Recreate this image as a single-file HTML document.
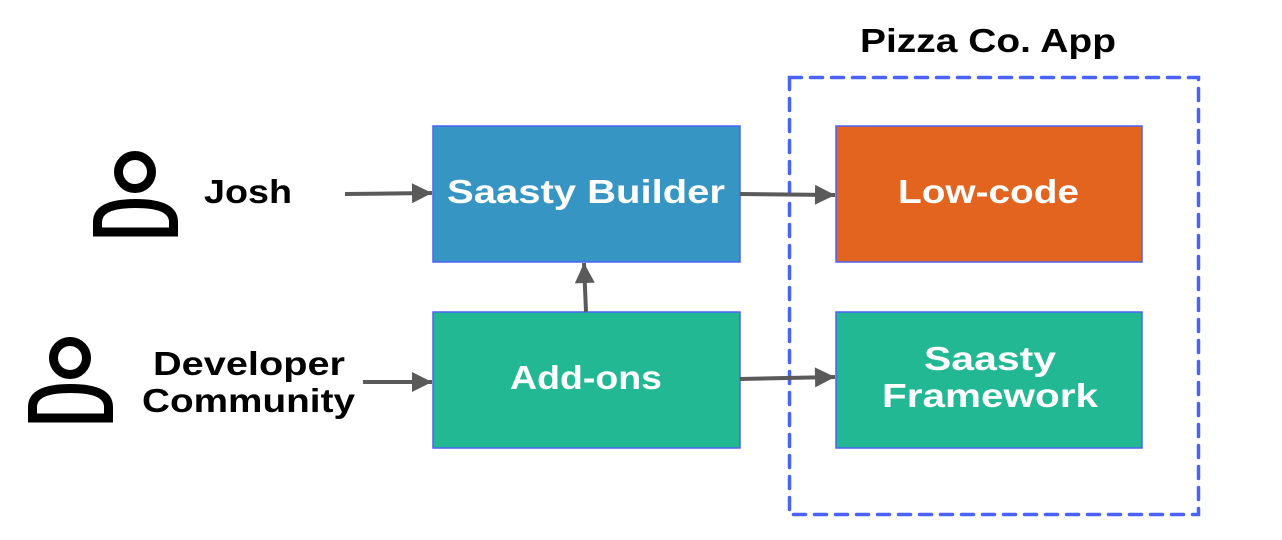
<!DOCTYPE html>
<html><head><meta charset="utf-8"><style>html,body{margin:0;padding:0;background:#fff}svg{display:block}</style></head>
<body>
<svg width="1282" height="540" viewBox="0 0 1282 540" xmlns="http://www.w3.org/2000/svg" font-family="Liberation Sans, sans-serif">
<defs>
<marker id="b" viewBox="0 0 10 10" refX="10" refY="5" markerWidth="26" markerHeight="20" orient="auto" markerUnits="userSpaceOnUse"><path d="M0,0 L10,5 L0,10 Z" fill="#5a5a5a"/></marker>
</defs>
<rect x="789.5" y="77.5" width="409" height="437" fill="none" stroke="#4a63f5" stroke-width="3.5" stroke-dasharray="12 9" stroke-linecap="round"/>
<text x="988" y="52" text-anchor="middle" font-size="33" font-weight="bold" fill="#000" textLength="256" lengthAdjust="spacingAndGlyphs">Pizza Co. App</text>

<rect x="433" y="126" width="307" height="136" fill="#3795c3" stroke="#4a63f5" stroke-width="1.5"/>
<rect x="836" y="126" width="306" height="136" fill="#e3641f" stroke="#4a63f5" stroke-width="1.5"/>
<rect x="433" y="312" width="307" height="136" fill="#22b894" stroke="#4a63f5" stroke-width="1.5"/>
<rect x="836" y="312" width="306" height="136" fill="#22b894" stroke="#4a63f5" stroke-width="1.5"/>

<g fill="#fff" font-size="33" font-weight="bold">
<text x="447" y="203" textLength="278" lengthAdjust="spacingAndGlyphs">Saasty Builder</text>
<text x="898" y="203" textLength="181" lengthAdjust="spacingAndGlyphs">Low-code</text>
<text x="510" y="389" textLength="152" lengthAdjust="spacingAndGlyphs">Add-ons</text>
<text x="924" y="370" textLength="132" lengthAdjust="spacingAndGlyphs">Saasty</text>
<text x="882" y="407" textLength="216" lengthAdjust="spacingAndGlyphs">Framework</text>
</g>
<g fill="#000" font-size="33" font-weight="bold">
<text x="204" y="203" textLength="88" lengthAdjust="spacingAndGlyphs">Josh</text>
<text x="153" y="375" textLength="192" lengthAdjust="spacingAndGlyphs">Developer</text>
<text x="142" y="412" textLength="213" lengthAdjust="spacingAndGlyphs">Community</text>
</g>

<g stroke="#5a5a5a" stroke-width="4" fill="none">
<line x1="345" y1="194" x2="432" y2="193" marker-end="url(#b)"/>
<line x1="740" y1="194" x2="835" y2="195" marker-end="url(#b)"/>
<line x1="363" y1="382" x2="432" y2="382" marker-end="url(#b)"/>
<line x1="740" y1="379" x2="835" y2="377" marker-end="url(#b)"/>
<line x1="586" y1="312" x2="584" y2="263" marker-end="url(#b)"/>
</g>

<g stroke="#000" stroke-width="9" fill="none">
<circle cx="135" cy="172" r="16.5"/>
<path d="M97.5 232 L97.5 222 Q97.5 203.5 135.5 203.5 Q173.5 203.5 173.5 222 L173.5 232 Z"/>
<circle cx="70" cy="358" r="16.5"/>
<path d="M32.5 418 L32.5 407 Q32.5 388.5 70.5 388.5 Q108.5 388.5 108.5 407 L108.5 418 Z"/>
</g>
</svg>
</body></html>
